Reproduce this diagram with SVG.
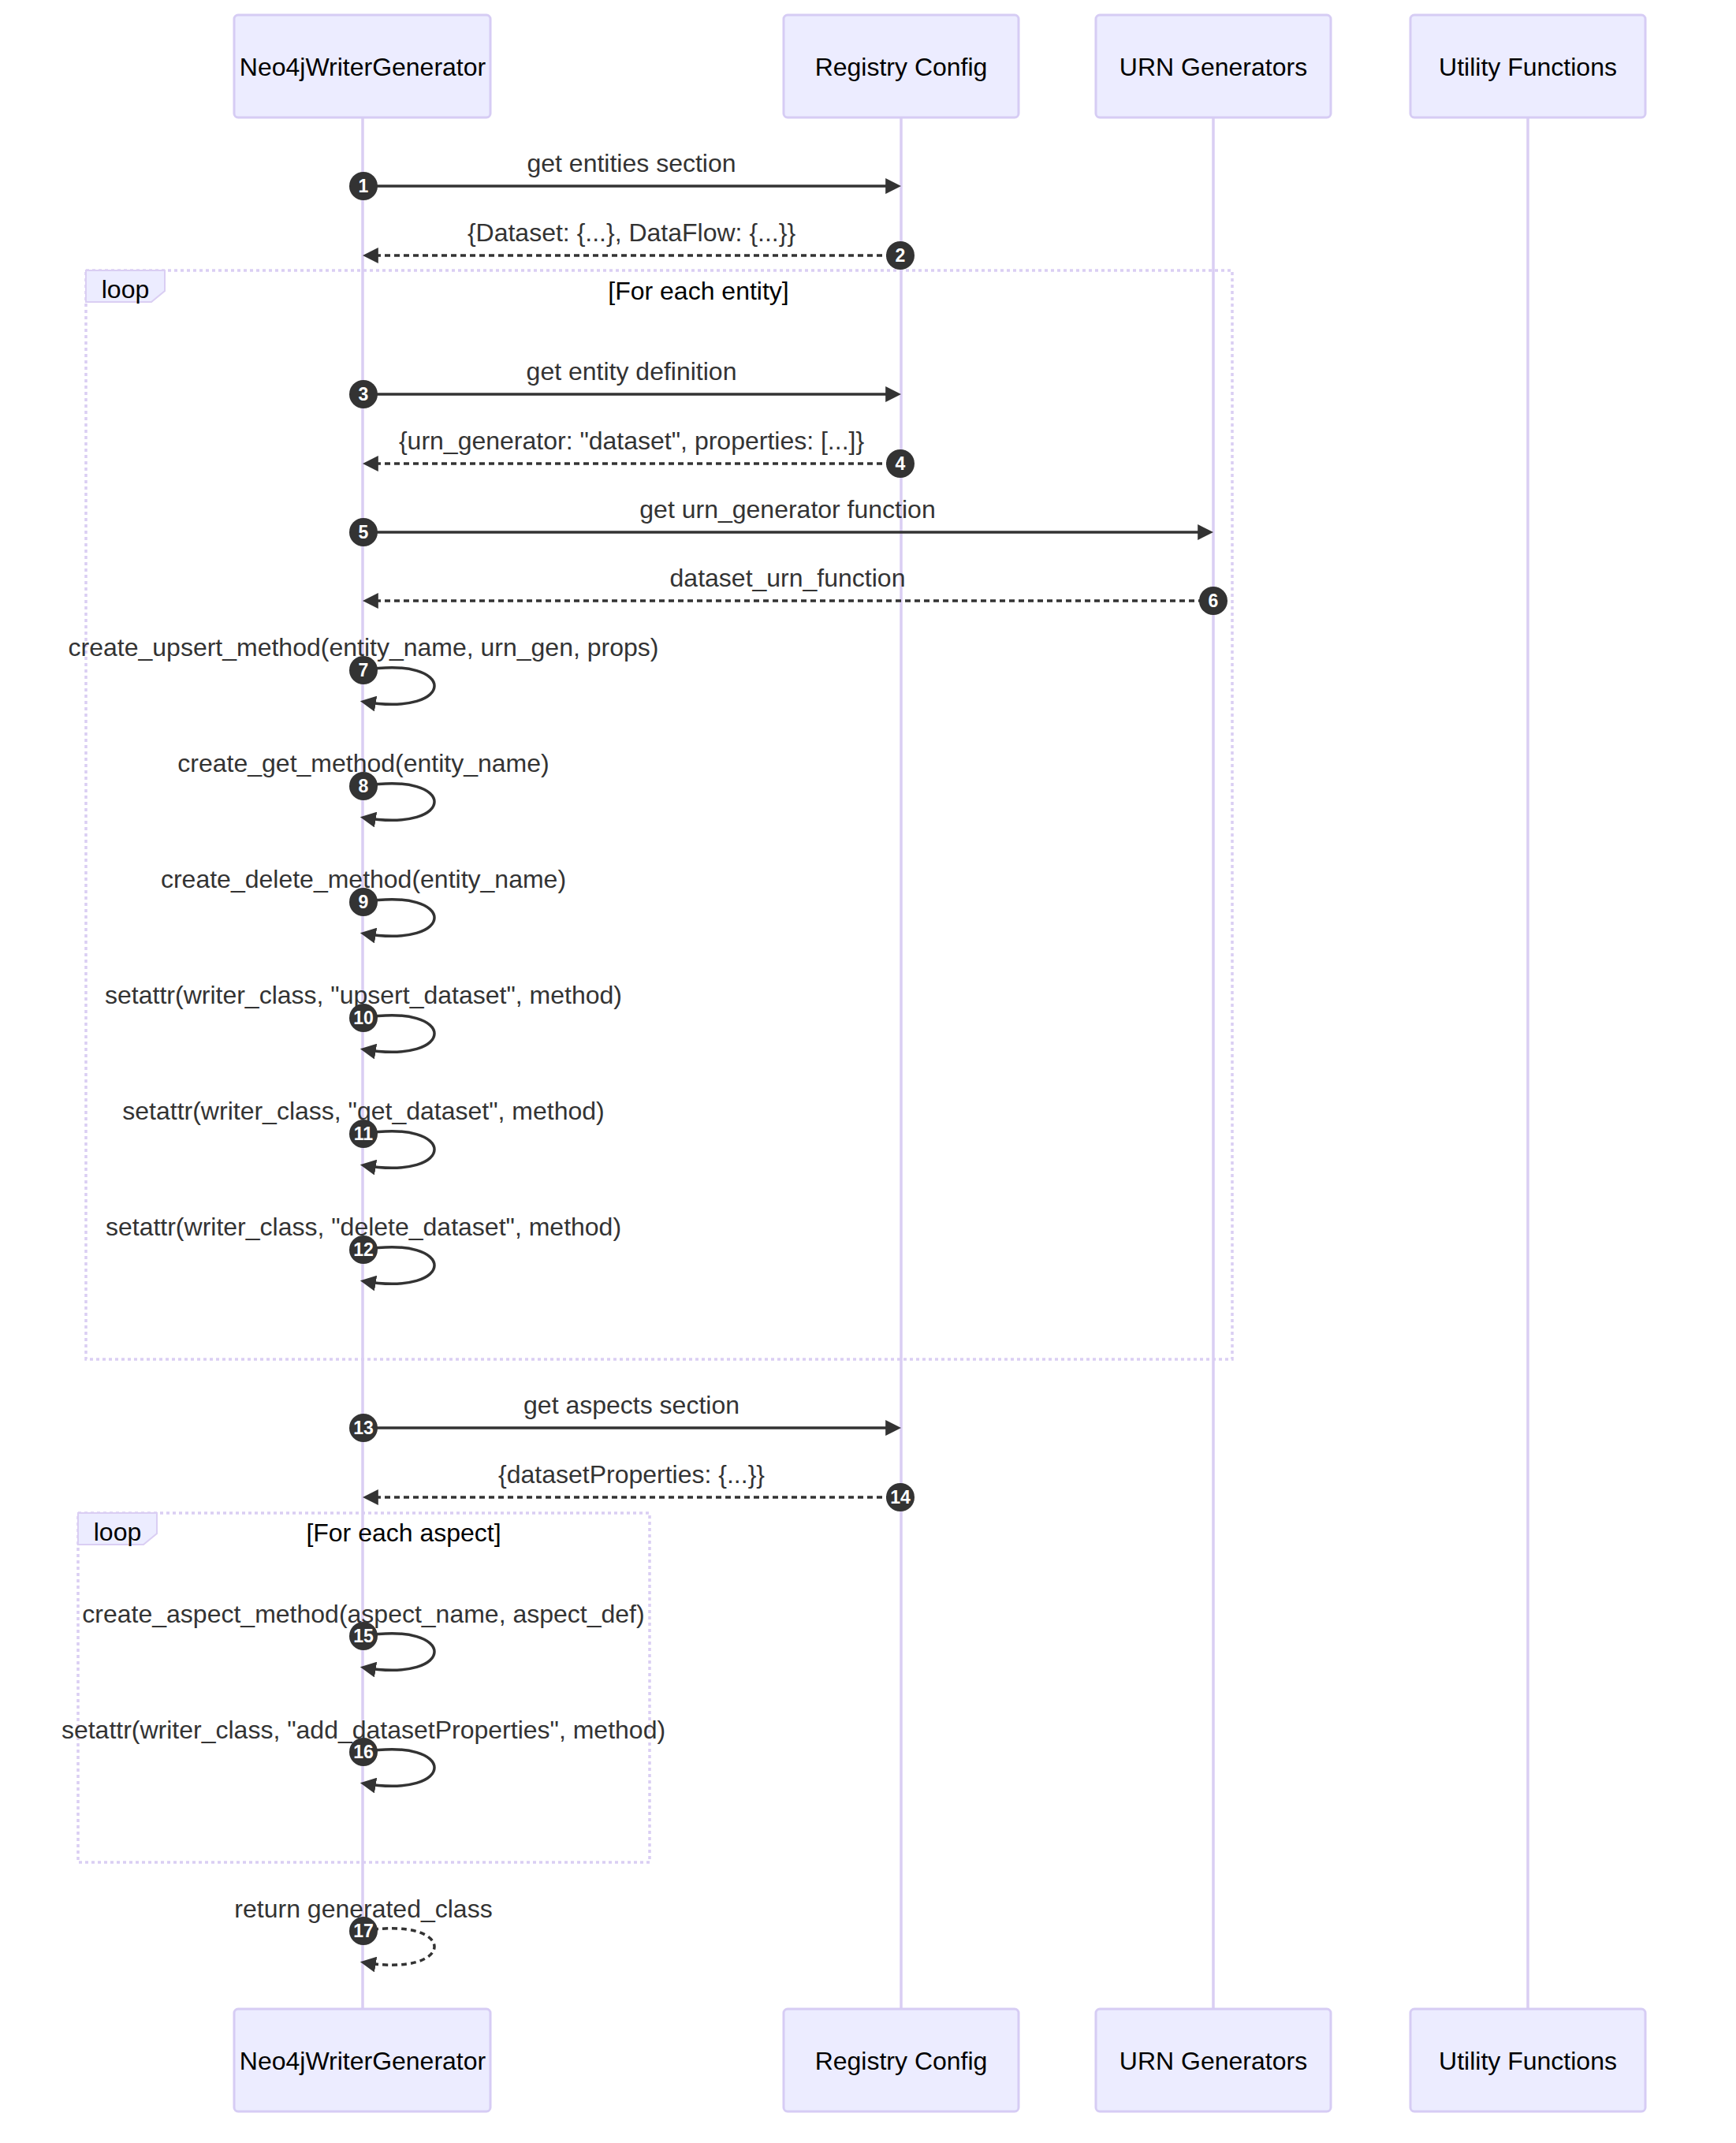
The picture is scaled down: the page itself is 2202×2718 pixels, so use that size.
<svg xmlns="http://www.w3.org/2000/svg" width="2202" height="2718" viewBox="0 0 2202 2718">
<style>
.actor{fill:#ECECFF;stroke:#D6CCF4;stroke-width:3}
.atext{font-family:"Liberation Sans",Arial,sans-serif;font-size:32px;fill:#000;text-anchor:middle}
.life{stroke:#DACEF3;stroke-width:3.5}
.loopline{fill:none;stroke:#DACEF3;stroke-width:3.5;stroke-dasharray:4 4}
.lbox{fill:#ECECFF;stroke:#DACEF3;stroke-width:2}
.ltext{font-family:"Liberation Sans",Arial,sans-serif;font-size:32px;fill:#000;text-anchor:middle}
.mtext{font-family:"Liberation Sans",Arial,sans-serif;font-size:32px;fill:#333;text-anchor:middle}
.msg{fill:none;stroke:#333;stroke-width:3.5}
.dot{stroke-dasharray:7 5}
.num{fill:#333}
.ntext{font-family:"Liberation Sans",Arial,sans-serif;font-size:23px;font-weight:bold;fill:#fff;text-anchor:middle}
</style>
<defs>
<marker id="arrow" viewBox="0 0 10 10" refX="7.9" refY="5" markerUnits="userSpaceOnUse" markerWidth="20" markerHeight="20" orient="auto">
<path d="M0,0 L10,5 L0,10 z" fill="#333"/>
</marker>
</defs>
<rect width="2202" height="2718" fill="#fff"/>
<g id="lifelines">
<line class="life" x1="460" y1="149" x2="460" y2="2548"/>
<line class="life" x1="1143" y1="149" x2="1143" y2="2548"/>
<line class="life" x1="1539" y1="149" x2="1539" y2="2548"/>
<line class="life" x1="1938" y1="149" x2="1938" y2="2548"/>
</g>
<g id="actor-neo4j-top"><rect class="actor" x="297" y="19" width="325" height="130" rx="5"/><text class="atext" x="460" y="96">Neo4jWriterGenerator</text></g>
<g id="actor-registry-top"><rect class="actor" x="994" y="19" width="298" height="130" rx="5"/><text class="atext" x="1143" y="96">Registry Config</text></g>
<g id="actor-urn-top"><rect class="actor" x="1390" y="19" width="298" height="130" rx="5"/><text class="atext" x="1539" y="96">URN Generators</text></g>
<g id="actor-util-top"><rect class="actor" x="1789" y="19" width="298" height="130" rx="5"/><text class="atext" x="1938" y="96">Utility Functions</text></g>
<g id="actor-neo4j-bottom"><rect class="actor" x="297" y="2548" width="325" height="130" rx="5"/><text class="atext" x="460" y="2625">Neo4jWriterGenerator</text></g>
<g id="actor-registry-bottom"><rect class="actor" x="994" y="2548" width="298" height="130" rx="5"/><text class="atext" x="1143" y="2625">Registry Config</text></g>
<g id="actor-urn-bottom"><rect class="actor" x="1390" y="2548" width="298" height="130" rx="5"/><text class="atext" x="1539" y="2625">URN Generators</text></g>
<g id="actor-util-bottom"><rect class="actor" x="1789" y="2548" width="298" height="130" rx="5"/><text class="atext" x="1938" y="2625">Utility Functions</text></g>
<g id="loop-entity">
<rect class="loopline" x="109" y="343" width="1454" height="1381"/>
<polygon class="lbox" points="109,343 209,343 209,369 192,383 109,383"/>
<text class="ltext" x="159" y="378">loop</text>
<text class="ltext" x="886" y="380">[For each entity]</text>
</g>
<g id="loop-aspect">
<rect class="loopline" x="99" y="1919" width="725" height="443"/>
<polygon class="lbox" points="99,1919 199,1919 199,1945 182,1959 99,1959"/>
<text class="ltext" x="149" y="1954">loop</text>
<text class="ltext" x="512" y="1955">[For each aspect]</text>
</g>
<g id="connectors">
<line class="msg" x1="461" y1="236" x2="1139" y2="236" marker-end="url(#arrow)"/>
<line class="msg dot" x1="1143" y1="324" x2="464" y2="324" marker-end="url(#arrow)"/>
<line class="msg" x1="461" y1="500" x2="1139" y2="500" marker-end="url(#arrow)"/>
<line class="msg dot" x1="1143" y1="588" x2="464" y2="588" marker-end="url(#arrow)"/>
<line class="msg" x1="461" y1="675" x2="1535" y2="675" marker-end="url(#arrow)"/>
<line class="msg dot" x1="1539" y1="762" x2="464" y2="762" marker-end="url(#arrow)"/>
<path class="msg" d="M461,850 C581,830 581,910 461,890" marker-end="url(#arrow)"/>
<path class="msg" d="M461,997 C581,977 581,1057 461,1037" marker-end="url(#arrow)"/>
<path class="msg" d="M461,1144 C581,1124 581,1204 461,1184" marker-end="url(#arrow)"/>
<path class="msg" d="M461,1291 C581,1271 581,1351 461,1331" marker-end="url(#arrow)"/>
<path class="msg" d="M461,1438 C581,1418 581,1498 461,1478" marker-end="url(#arrow)"/>
<path class="msg" d="M461,1585 C581,1565 581,1645 461,1625" marker-end="url(#arrow)"/>
<line class="msg" x1="461" y1="1811" x2="1139" y2="1811" marker-end="url(#arrow)"/>
<line class="msg dot" x1="1143" y1="1899" x2="464" y2="1899" marker-end="url(#arrow)"/>
<path class="msg" d="M461,2075 C581,2055 581,2135 461,2115" marker-end="url(#arrow)"/>
<path class="msg" d="M461,2222 C581,2202 581,2282 461,2262" marker-end="url(#arrow)"/>
<path class="msg dot" d="M461,2449 C581,2429 581,2509 461,2489" marker-end="url(#arrow)"/>
</g>
<g id="message-labels">
<text class="mtext" x="801" y="218">get entities section</text>
<text class="mtext" x="801" y="306">{Dataset: {...}, DataFlow: {...}}</text>
<text class="mtext" x="801" y="482">get entity definition</text>
<text class="mtext" x="801" y="570">{urn_generator: "dataset", properties: [...]}</text>
<text class="mtext" x="999" y="657">get urn_generator function</text>
<text class="mtext" x="999" y="744">dataset_urn_function</text>
<text class="mtext" x="461" y="832">create_upsert_method(entity_name, urn_gen, props)</text>
<text class="mtext" x="461" y="979">create_get_method(entity_name)</text>
<text class="mtext" x="461" y="1126">create_delete_method(entity_name)</text>
<text class="mtext" x="461" y="1273">setattr(writer_class, "upsert_dataset", method)</text>
<text class="mtext" x="461" y="1420">setattr(writer_class, "get_dataset", method)</text>
<text class="mtext" x="461" y="1567">setattr(writer_class, "delete_dataset", method)</text>
<text class="mtext" x="801" y="1793">get aspects section</text>
<text class="mtext" x="801" y="1881">{datasetProperties: {...}}</text>
<text class="mtext" x="461" y="2058">create_aspect_method(aspect_name, aspect_def)</text>
<text class="mtext" x="461" y="2205">setattr(writer_class, "add_datasetProperties", method)</text>
<text class="mtext" x="461" y="2432">return generated_class</text>
</g>
<g id="sequence-numbers">
<circle class="num" cx="461" cy="236" r="18"/><text class="ntext" x="461" y="244">1</text>
<circle class="num" cx="1142" cy="324" r="18"/><text class="ntext" x="1142" y="332">2</text>
<circle class="num" cx="461" cy="500" r="18"/><text class="ntext" x="461" y="508">3</text>
<circle class="num" cx="1142" cy="588" r="18"/><text class="ntext" x="1142" y="596">4</text>
<circle class="num" cx="461" cy="675" r="18"/><text class="ntext" x="461" y="683">5</text>
<circle class="num" cx="1539" cy="762" r="18"/><text class="ntext" x="1539" y="770">6</text>
<circle class="num" cx="461" cy="850" r="18"/><text class="ntext" x="461" y="858">7</text>
<circle class="num" cx="461" cy="997" r="18"/><text class="ntext" x="461" y="1005">8</text>
<circle class="num" cx="461" cy="1144" r="18"/><text class="ntext" x="461" y="1152">9</text>
<circle class="num" cx="461" cy="1291" r="18"/><text class="ntext" x="461" y="1299">10</text>
<circle class="num" cx="461" cy="1438" r="18"/><text class="ntext" x="461" y="1446">11</text>
<circle class="num" cx="461" cy="1585" r="18"/><text class="ntext" x="461" y="1593">12</text>
<circle class="num" cx="461" cy="1811" r="18"/><text class="ntext" x="461" y="1819">13</text>
<circle class="num" cx="1142" cy="1899" r="18"/><text class="ntext" x="1142" y="1907">14</text>
<circle class="num" cx="461" cy="2075" r="18"/><text class="ntext" x="461" y="2083">15</text>
<circle class="num" cx="461" cy="2222" r="18"/><text class="ntext" x="461" y="2230">16</text>
<circle class="num" cx="461" cy="2449" r="18"/><text class="ntext" x="461" y="2457">17</text>
</g>
</svg>
